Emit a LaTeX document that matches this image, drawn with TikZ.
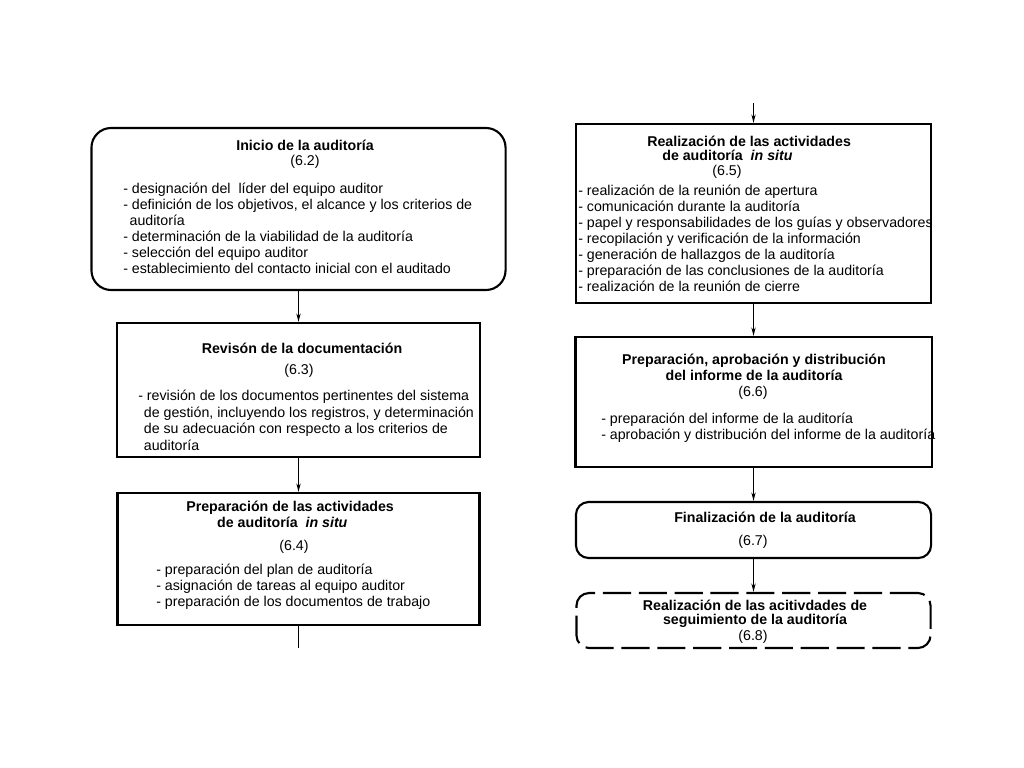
\documentclass[tikz,border=0pt]{standalone}
\usepackage{fontspec}
\setmainfont{Liberation Sans}
\usetikzlibrary{arrows.meta}

\begin{document}
\begin{tikzpicture}[x=0.025cm, y=-0.025cm,
    font=\fontsize{10.1}{11.4}\selectfont,
    box/.style={draw, line width=1.5pt, inner sep=0pt},
    rbox/.style={box, rounded corners=9pt},
    title/.style={font=\fontsize{10.1}{11.4}\selectfont\bfseries, inner sep=0pt, align=center, anchor=north},
    items/.style={inner sep=0pt, align=left, anchor=north west},
    num/.style={inner sep=0pt},
    flow/.style={line width=1pt, -{Stealth[length=6pt,width=3pt]}}]
  \useasboundingbox (0,0) rectangle (1024,768);

  % left column
  \node[rbox, rounded corners=14pt, minimum width=10.35cm, minimum height=4.05cm] (b1) at (298.5,209) {};
  \node[box, minimum width=9.075cm, minimum height=3.35cm] (b2) at (298.5,390) {};
  \node[box, minimum width=9.05cm, minimum height=3.3cm] (b3) at (298.5,559) {};
  \coordinate (bot) at (298.5,648);

  \node[title] (t1) at (305,139) {\strut Inicio de la auditoría};
  \node[num] (n1) at (305,162) {(6.2)};
  \node[items] (l1) at (123,182) {\strut- designación del \ líder del equipo auditor\\
    - definición de los objetivos, el alcance y los criterios de\\
    \hspace*{4.5pt}auditoría\\
    - determinación de la viabilidad de la auditoría\\
    - selección del equipo auditor\\
    - establecimiento del contacto inicial con el auditado};

  \node[title] (t2) at (302,342) {\strut Revisón de la documentación};
  \node[num] (n2) at (299,371) {(6.3)};
  \node[items] (l2) at (138,389) {\strut- revisión de los documentos pertinentes del sistema\\[0.5pt]
    \hspace*{4pt}de gestión, incluyendo los registros, y determinación\\[0.5pt]
    \hspace*{4pt}de su adecuación con respecto a los criterios de\\[0.5pt]
    \hspace*{4pt}auditoría};

  \node[title, align=left, anchor=north west] (t3) at (186,500) {\strut Preparación de las actividades\\
    \hspace*{22pt}de auditoría \ \textit{in situ}};
  \node[num] (n3) at (294,547) {(6.4)};
  \node[items] (l3) at (156,563) {\strut- preparación del plan de auditoría\\
    - asignación de tareas al equipo auditor\\
    - preparación de los documentos de trabajo};

  % right column
  \coordinate (top) at (753.5,103);
  \node[box, minimum width=8.875cm, minimum height=4.475cm] (b4) at (753.5,213.5) {};
  \node[box, minimum width=8.9cm, minimum height=3.25cm] (b5) at (753.5,402) {};
  \node[rbox, minimum width=8.875cm, minimum height=1.4cm] (b6) at (753.5,530) {};
  \node[rbox, dash pattern=on 20pt off 5.5pt, minimum width=8.85cm, minimum height=1.375cm] (b7) at (753.5,620.5) {};

  \node[title, align=left, anchor=north west] (t4) at (647,135) {\strut Realización de las actividades\\[-1.4pt]
    \hspace*{10.7pt}de auditoría \ \textit{in situ}};
  \node[num] (n4) at (727,172) {(6.5)};
  \node[items] (l4) at (578,184) {\strut- realización de la reunión de apertura\\
    - comunicación durante la auditoría\\
    - papel y responsabilidades de los guías y observadores\\
    - recopilación y verificación de la información\\
    - generación de hallazgos de la auditoría\\
    - preparación de las conclusiones de la auditoría\\
    - realización de la reunión de cierre};

  \node[title] (t5) at (754,353) {\strut Preparación, aprobación y distribución\\
    del informe de la auditoría};
  \node[num] (n5) at (753,393) {(6.6)};
  \node[items] (l5) at (601,412) {\strut- preparación del informe de la auditoría\\
    - aprobación y distribución del informe de la auditoría};

  \node[title] (t6) at (765,511) {\strut Finalización de la auditoría};
  \node[num] (n6) at (753,542) {(6.7)};

  \node[title] (t7) at (755,599) {\strut Realización de las acitivdades de\\[-1.5pt]
    seguimiento de la auditoría};
  \node[num] (n7) at (753,637) {(6.8)};

  % connectors
  \draw[flow] (b1) -- (b2);
  \draw[flow] (b2) -- (b3);
  \draw[line width=1pt] (b3) -- (bot);
  \draw[flow] (top) -- (b4);
  \draw[flow] (b4) -- (b5);
  \draw[flow] (b5) -- (b6);
  \draw[flow] (b6) -- (b7);
\end{tikzpicture}
\end{document}
